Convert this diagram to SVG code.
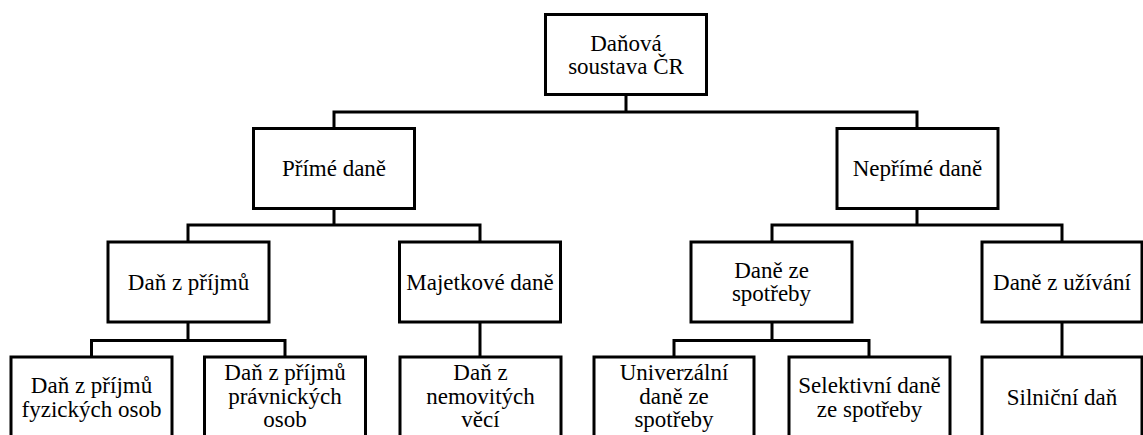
<svg xmlns="http://www.w3.org/2000/svg" width="1143" height="435" viewBox="0 0 1143 435">
<style>
.box{fill:#fff;stroke:#000;stroke-width:3}
.c{fill:none;stroke:#000;stroke-width:3}
.t{font-family:"Liberation Serif","Times New Roman",Times,Tinos,"Noto Serif","DejaVu Serif",FreeSerif,"Nimbus Roman",serif;font-size:23px;fill:#000;text-anchor:middle}
</style>
<rect width="1143" height="435" fill="#fff"/>
<g id="connectors">
<path class="c" d="M626 95V112M334 128V112H917V128"/>
<path class="c" d="M334 208V225M188 242V225H480V242"/>
<path class="c" d="M917 208V225M772 242V225H1062V242"/>
<path class="c" d="M188 322V340.5M91.5 357V340.5H285V357"/>
<path class="c" d="M480 322V357"/>
<path class="c" d="M772 322V340.5M674 357V340.5H869V357"/>
<path class="c" d="M1062 322V357"/>
</g>
<g class="t">
<g id="root"><rect class="box" x="545.5" y="14.5" width="161" height="80"/><text x="626" y="50.5">Daňová</text><text x="626" y="74">soustava ČR</text></g>
<g id="prime"><rect class="box" x="253.5" y="128.5" width="161" height="80"/><text x="334" y="176">Přímé daně</text></g>
<g id="neprime"><rect class="box" x="837" y="128.5" width="161" height="80"/><text x="917.5" y="176">Nepřímé daně</text></g>
<g id="prijmy"><rect class="box" x="108" y="242" width="161" height="80"/><text x="188.5" y="290">Daň z příjmů</text></g>
<g id="majetkove"><rect class="box" x="399.5" y="242" width="161" height="80"/><text x="480" y="290">Majetkové daně</text></g>
<g id="spotreba"><rect class="box" x="691" y="242" width="161" height="80"/><text x="771.5" y="278">Daně ze</text><text x="771.5" y="301">spotřeby</text></g>
<g id="uzivani"><rect class="box" x="982" y="242" width="160" height="80"/><text x="1062" y="290">Daně z užívání</text></g>
<g id="fo"><rect class="box" x="11" y="357" width="161" height="80"/><text x="91.5" y="393">Daň z příjmů</text><text x="91.5" y="416.5">fyzických osob</text></g>
<g id="po"><rect class="box" x="204.5" y="357" width="161" height="80"/><text x="285" y="380">Daň z příjmů</text><text x="285" y="403.5">právnických</text><text x="285" y="427">osob</text></g>
<g id="nemovitosti"><rect class="box" x="400" y="357" width="161" height="80"/><text x="480.5" y="380">Daň z</text><text x="480.5" y="403.5">nemovitých</text><text x="480.5" y="427">věcí</text></g>
<g id="univerzalni"><rect class="box" x="594" y="357" width="160" height="80"/><text x="674" y="380">Univerzální</text><text x="674" y="403.5">daně ze</text><text x="674" y="427">spotřeby</text></g>
<g id="selektivni"><rect class="box" x="789" y="357" width="161" height="80"/><text x="869.5" y="393">Selektivní daně</text><text x="869.5" y="416.5">ze spotřeby</text></g>
<g id="silnicni"><rect class="box" x="982" y="357" width="160" height="80"/><text x="1062" y="404.5">Silniční daň</text></g>
</g>
</svg>
